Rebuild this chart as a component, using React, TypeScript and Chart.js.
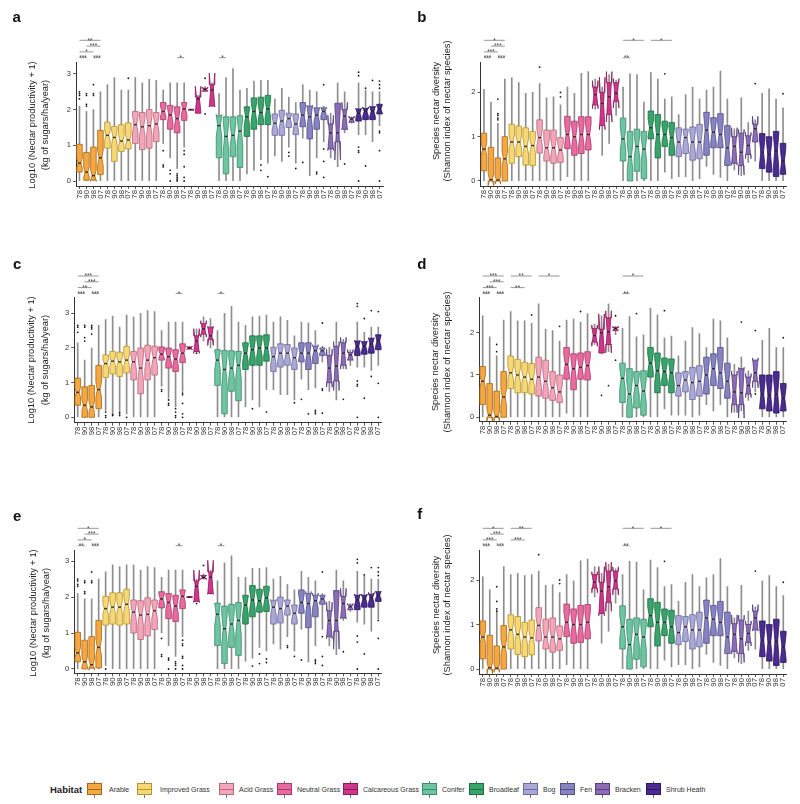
import React, { useEffect, useRef } from "react";
import { Chart, registerables } from "chart.js";

Chart.register(...registerables);

const FONT = '"Liberation Sans", Arial, Helvetica, sans-serif';

// ---------- categories ----------
const habitats = ["Arable", "Improved Grass", "Acid Grass", "Neutral Grass", "Calcareous Grass", "Conifer", "Broadleaf", "Bog", "Fen", "Bracken", "Shrub Heath"];
const years = ["78", "90", "98", "07"];
const xLabels = habitats.flatMap(() => years);

const habitatFill = ["#F5A741", "#F8D775", "#F5A5B8", "#E96A9E", "#D1358B", "#6DC5A1", "#37A46B", "#A9A8D6", "#8683C0", "#8B6CB5", "#4B2B8F"];
const habitatEdge = ["#A8691A", "#B39534", "#B26A7E", "#A53B69", "#8A1B5A", "#3E8A6C", "#1E6E44", "#6D6B9C", "#514E8A", "#573E80", "#2B1660"];
// survey squares per habitat (sets notch size: 1.58*IQR/sqrt(n))
const sampleSize = [80, 60, 35, 25, 4, 35, 25, 22, 20, 5, 15];

const productivityTicks = [0, 1, 2, 3];
const diversityTicks = [0, 1, 2];

// ---------- box statistics: [low whisker, Q1, median, Q3, high whisker] ----------
const statsA = [
  [0, 0.25, 0.5, 1.03, 2.1], [0, 0.02, 0.25, 0.8, 1.95], [0, 0.03, 0.15, 0.95, 2.0], [0, 0.18, 0.65, 1.42, 2.5],
  [0, 0.92, 1.28, 1.65, 2.7], [0, 0.55, 1.22, 1.53, 2.9], [0, 0.83, 1.12, 1.58, 2.55], [0, 0.9, 1.15, 1.63, 2.55],
  [0, 1.05, 1.58, 1.95, 2.9], [0, 0.88, 1.52, 1.92, 2.75], [0, 0.92, 1.55, 2.0, 2.85], [0, 1.1, 1.6, 1.92, 2.82],
  [1.05, 1.72, 1.95, 2.2, 2.55], [0.65, 1.45, 1.85, 2.12, 2.75], [0.35, 1.35, 1.75, 2.08, 2.75], [0.95, 1.7, 2.02, 2.2, 2.75],
  [1.99, 1.99, 2.0, 2.01, 2.01], [1.9, 1.9, 2.3, 2.35, 2.4], [2.5, 2.52, 2.57, 2.6, 2.65], [2.1, 2.1, 2.55, 2.7, 2.75],
  [0, 0.65, 1.55, 1.83, 2.45], [0, 0.2, 1.25, 1.8, 2.9], [0, 0.68, 1.28, 1.8, 3.15], [0, 0.38, 1.4, 1.83, 2.55],
  [0.2, 1.25, 1.8, 2.08, 2.6], [0.3, 1.45, 1.95, 2.33, 2.8], [0.6, 1.58, 1.92, 2.35, 2.82], [0.5, 1.58, 2.02, 2.4, 2.82],
  [0.7, 1.28, 1.62, 1.88, 2.3], [0.55, 1.28, 1.68, 1.98, 2.6], [0.95, 1.5, 1.75, 1.9, 2.35], [0.5, 1.3, 1.6, 1.88, 2.2],
  [1.2, 1.52, 1.85, 2.2, 2.7], [0.15, 1.18, 1.8, 2.1, 2.55], [0.65, 1.45, 1.85, 2.05, 2.5], [1.1, 1.72, 1.95, 2.05, 2.1],
  [0.65, 0.9, 1.35, 1.6, 1.9], [0.4, 1.1, 1.35, 2.18, 2.75], [1.35, 1.45, 1.82, 2.0, 2.5], [1.62, 1.65, 1.73, 1.78, 1.8],
  [1.3, 1.68, 1.9, 2.02, 2.75], [1.3, 1.72, 1.95, 2.03, 2.55], [1.1, 1.72, 1.95, 2.08, 2.5], [1.55, 1.88, 2.02, 2.15, 2.5],
];
const statsB = [
  [0, 0.23, 0.72, 1.08, 2.07], [0, 0.0, 0.03, 0.76, 1.78], [0, 0.0, 0.02, 0.52, 1.3], [0, 0.0, 0.5, 1.0, 2.3],
  [0, 0.4, 0.88, 1.28, 2.33], [0, 0.55, 0.88, 1.24, 2.22], [0, 0.36, 0.78, 1.2, 1.98], [0, 0.35, 0.8, 1.12, 2.0],
  [0, 0.63, 0.98, 1.38, 2.2], [0, 0.45, 0.75, 1.15, 1.88], [0, 0.4, 0.75, 1.15, 1.9], [0, 0.42, 0.7, 0.98, 1.72],
  [0.1, 0.73, 1.05, 1.46, 2.12], [0, 0.58, 1.0, 1.35, 1.98], [0, 0.62, 1.05, 1.45, 2.43], [0, 0.7, 1.05, 1.45, 2.47],
  [1.62, 1.72, 1.95, 2.12, 2.3], [0.58, 1.25, 1.75, 2.0, 2.12], [0.85, 1.5, 1.9, 2.22, 2.4], [1.48, 1.8, 1.98, 2.22, 2.28],
  [0, 0.45, 0.95, 1.42, 2.12], [0, 0.0, 0.55, 1.12, 2.42], [0, 0.22, 0.78, 1.17, 2.4], [0, 0.05, 0.72, 1.12, 1.78],
  [0, 0.95, 1.2, 1.58, 2.45], [0, 0.52, 1.05, 1.5, 2.3], [0.2, 0.78, 1.05, 1.35, 1.85], [0.05, 0.58, 0.98, 1.32, 1.9],
  [0.1, 0.55, 0.88, 1.2, 1.5], [0.1, 0.62, 0.98, 1.17, 1.95], [0, 0.47, 0.88, 1.22, 2.12], [0.05, 0.5, 0.88, 1.28, 1.85],
  [0.33, 0.58, 1.15, 1.55, 2.05], [0.15, 0.75, 1.1, 1.43, 2.12], [0.08, 0.75, 1.05, 1.52, 2.48], [0, 0.35, 0.75, 1.25, 1.85],
  [0.25, 0.4, 0.78, 1.0, 1.18], [0.12, 0.35, 0.65, 1.08, 1.88], [0.42, 0.6, 0.8, 1.02, 1.32], [0.45, 0.88, 1.18, 1.28, 1.38],
  [0, 0.28, 0.65, 1.07, 1.98], [0, 0.2, 0.6, 1.0, 2.08], [0, 0.1, 0.68, 1.12, 1.85], [0, 0.15, 0.45, 0.85, 1.65],
];
const statsC = [
  [0, 0.35, 0.72, 1.13, 2.15], [0, 0.0, 0.35, 0.88, 1.65], [0, 0.0, 0.3, 0.92, 2.0], [0, 0.25, 0.8, 1.5, 2.65],
  [0.2, 1.15, 1.55, 1.8, 2.82], [0.1, 1.25, 1.62, 1.9, 2.92], [0.2, 1.18, 1.6, 1.88, 2.6], [0.1, 1.28, 1.65, 2.05, 2.95],
  [0, 1.08, 1.6, 1.9, 2.9], [0, 0.68, 1.42, 2.0, 3.0], [0, 1.08, 1.65, 2.08, 3.08], [0, 1.22, 1.72, 2.05, 3.05],
  [0.9, 1.65, 1.82, 2.03, 2.5], [0.55, 1.42, 1.75, 2.0, 2.75], [0.3, 1.32, 1.68, 1.95, 2.75], [0.75, 1.58, 1.85, 2.12, 2.75],
  [1.97, 1.97, 2.0, 2.03, 2.03], [1.9, 1.9, 2.2, 2.35, 2.55], [2.2, 2.4, 2.55, 2.7, 2.9], [2.0, 2.25, 2.35, 2.6, 2.85],
  [0, 0.92, 1.65, 1.95, 2.5], [0, 0.1, 1.38, 1.93, 3.0], [0, 0.75, 1.42, 1.92, 3.2], [0, 0.48, 1.5, 1.9, 2.75],
  [0.3, 1.38, 1.85, 2.15, 2.65], [0.5, 1.5, 1.95, 2.35, 2.9], [0.3, 1.5, 2.0, 2.35, 2.92], [0.8, 1.62, 2.0, 2.38, 2.95],
  [0.8, 1.32, 1.75, 2.02, 2.75], [0.65, 1.45, 1.85, 2.12, 2.9], [0.65, 1.5, 1.85, 2.1, 2.8], [0.5, 1.38, 1.72, 2.0, 2.35],
  [1.1, 1.6, 1.85, 2.15, 2.75], [0.8, 1.38, 1.85, 2.15, 2.72], [0.85, 1.55, 1.92, 2.05, 2.5], [1.6, 1.78, 1.92, 2.0, 2.05],
  [0.75, 1.0, 1.42, 1.78, 2.02], [0.5, 1.05, 1.48, 2.05, 2.75], [1.4, 1.5, 1.85, 2.15, 2.25], [1.5, 1.65, 1.8, 1.87, 1.95],
  [1.45, 1.78, 2.05, 2.2, 2.75], [1.45, 1.82, 2.05, 2.18, 2.45], [1.35, 1.85, 2.12, 2.28, 2.6], [1.5, 1.95, 2.2, 2.38, 2.6],
];
const statsD = [
  [0, 0.3, 0.85, 1.2, 2.4], [0, 0.0, 0.05, 0.8, 1.9], [0, 0.0, 0.02, 0.62, 1.45], [0, 0.0, 0.48, 1.08, 2.3],
  [0, 0.68, 1.05, 1.45, 2.5], [0, 0.58, 1.0, 1.37, 2.28], [0, 0.58, 0.95, 1.3, 2.28], [0, 0.55, 0.9, 1.27, 2.22],
  [0, 0.5, 0.95, 1.42, 2.68], [0, 0.45, 0.85, 1.35, 2.08], [0, 0.4, 0.7, 1.08, 2.05], [0, 0.35, 0.6, 1.0, 1.8],
  [0.1, 0.9, 1.25, 1.65, 2.3], [0, 0.65, 1.15, 1.5, 2.32], [0, 0.9, 1.18, 1.52, 2.25], [0, 0.88, 1.22, 1.55, 2.45],
  [1.72, 1.78, 1.93, 2.1, 2.2], [1.5, 1.52, 2.0, 2.08, 2.4], [1.55, 1.72, 2.02, 2.35, 2.68], [1.95, 2.05, 2.1, 2.12, 2.15],
  [0, 0.35, 0.92, 1.28, 2.1], [0, 0.0, 0.55, 1.15, 2.38], [0, 0.22, 0.75, 1.08, 1.9], [0, 0.05, 0.62, 1.1, 1.95],
  [0, 0.95, 1.28, 1.65, 2.58], [0, 0.58, 1.1, 1.52, 2.42], [0.2, 0.75, 1.08, 1.4, 1.88], [0.05, 0.58, 1.05, 1.38, 1.92],
  [0.05, 0.5, 0.75, 1.05, 1.45], [0.05, 0.6, 0.88, 1.08, 1.8], [0, 0.42, 0.82, 1.18, 2.12], [0.05, 0.5, 0.85, 1.22, 1.98],
  [0.3, 0.55, 1.0, 1.42, 1.65], [0.15, 0.75, 1.15, 1.5, 2.32], [0.3, 0.68, 1.05, 1.65, 2.28], [0, 0.45, 0.85, 1.28, 1.88],
  [0.12, 0.3, 0.6, 1.0, 1.25], [0.15, 0.3, 0.58, 1.15, 1.42], [0.4, 0.55, 0.75, 0.95, 1.1], [0.6, 0.85, 1.05, 1.35, 1.35],
  [0, 0.2, 0.55, 1.0, 1.82], [0, 0.15, 0.52, 1.0, 2.1], [0, 0.1, 0.55, 1.08, 1.65], [0, 0.15, 0.45, 0.8, 1.65],
];
const statsE = [
  [0, 0.2, 0.45, 1.02, 2.1], [0, 0.0, 0.2, 0.8, 1.95], [0, 0.03, 0.12, 0.9, 1.95], [0, 0.03, 0.6, 1.35, 2.5],
  [0.1, 1.22, 1.68, 2.02, 2.7], [0, 1.25, 1.72, 2.12, 2.9], [0, 1.22, 1.72, 2.12, 2.85], [0, 1.25, 1.8, 2.22, 2.9],
  [0, 1.0, 1.58, 1.92, 2.9], [0, 0.82, 1.5, 1.9, 2.75], [0, 0.92, 1.52, 1.98, 2.85], [0, 1.1, 1.62, 1.92, 2.82],
  [1.0, 1.7, 1.95, 2.15, 2.55], [0.65, 1.4, 1.85, 2.1, 2.75], [0.35, 1.32, 1.75, 2.05, 2.75], [0.9, 1.68, 2.02, 2.2, 2.75],
  [1.99, 1.99, 2.0, 2.01, 2.01], [1.88, 1.88, 2.3, 2.45, 2.5], [2.5, 2.52, 2.55, 2.6, 2.65], [2.08, 2.1, 2.55, 2.7, 2.75],
  [0, 0.65, 1.52, 1.83, 2.45], [0, 0.15, 1.12, 1.75, 2.95], [0, 0.6, 1.25, 1.8, 3.15], [0, 0.38, 1.35, 1.85, 2.55],
  [0.22, 1.25, 1.78, 2.05, 2.55], [0.3, 1.45, 1.92, 2.32, 2.8], [0.6, 1.58, 1.9, 2.22, 2.8], [0.5, 1.6, 1.98, 2.3, 2.82],
  [0.7, 1.25, 1.72, 1.9, 2.5], [0.55, 1.28, 1.68, 2.0, 2.58], [0.9, 1.5, 1.75, 1.92, 2.35], [0.5, 1.25, 1.55, 1.78, 2.2],
  [1.1, 1.55, 1.85, 2.2, 2.72], [0.2, 1.15, 1.82, 2.1, 2.55], [0.65, 1.45, 1.9, 2.05, 2.45], [1.1, 1.8, 1.95, 2.05, 2.1],
  [0.65, 0.9, 1.35, 1.62, 1.88], [0.4, 1.05, 1.35, 2.18, 2.75], [1.35, 1.42, 1.82, 2.02, 2.45], [1.6, 1.65, 1.73, 1.78, 1.82],
  [1.3, 1.65, 1.92, 2.05, 2.72], [1.25, 1.72, 1.95, 2.05, 2.6], [1.05, 1.72, 1.98, 2.08, 2.5], [1.4, 1.88, 2.05, 2.15, 2.5],
];
const statsF = [
  [0, 0.23, 0.72, 1.08, 2.07], [0, 0.0, 0.03, 0.76, 1.78], [0, 0.0, 0.02, 0.52, 1.3], [0, 0.0, 0.5, 0.98, 2.3],
  [0, 0.45, 0.88, 1.22, 2.12], [0, 0.33, 0.78, 1.18, 2.15], [0, 0.28, 0.72, 1.05, 2.1], [0, 0.32, 0.7, 1.1, 2.12],
  [0, 0.63, 0.98, 1.38, 2.2], [0, 0.45, 0.72, 1.12, 1.88], [0, 0.38, 0.72, 1.15, 1.9], [0, 0.42, 0.68, 0.97, 1.72],
  [0.1, 0.73, 1.05, 1.46, 2.12], [0, 0.58, 1.0, 1.35, 1.98], [0, 0.6, 1.0, 1.43, 2.43], [0, 0.68, 1.05, 1.45, 2.47],
  [1.62, 1.82, 1.95, 2.12, 2.3], [0.58, 1.25, 1.75, 1.95, 2.15], [0.85, 1.5, 1.85, 2.2, 2.35], [1.48, 1.8, 1.98, 2.2, 2.25],
  [0, 0.45, 0.95, 1.42, 2.12], [0, 0.0, 0.55, 1.12, 2.42], [0, 0.22, 0.78, 1.15, 2.4], [0, 0.05, 0.72, 1.12, 1.78],
  [0, 0.95, 1.2, 1.58, 2.45], [0, 0.52, 1.05, 1.5, 2.28], [0.2, 0.75, 1.05, 1.35, 1.85], [0.05, 0.58, 0.95, 1.32, 1.9],
  [0.1, 0.55, 0.82, 1.2, 1.52], [0.1, 0.62, 0.95, 1.18, 1.95], [0, 0.45, 0.88, 1.22, 2.12], [0.05, 0.5, 0.88, 1.28, 1.85],
  [0.33, 0.58, 1.15, 1.55, 2.05], [0.15, 0.75, 1.12, 1.43, 2.12], [0.08, 0.75, 1.05, 1.52, 2.48], [0, 0.35, 0.72, 1.28, 1.85],
  [0.25, 0.4, 0.78, 1.02, 1.15], [0.12, 0.35, 0.68, 1.1, 1.88], [0.42, 0.6, 0.8, 1.0, 1.3], [0.45, 0.88, 1.15, 1.3, 1.4],
  [0, 0.28, 0.65, 1.08, 1.98], [0, 0.18, 0.6, 1.0, 2.1], [0, 0.08, 0.62, 1.12, 1.85], [0, 0.15, 0.5, 0.85, 1.65],
];

// ---------- outliers: [box index, values...] ----------
const outliersA = [
  [0, 2.3, 2.4, 2.45, 2.5], [1, 2.1, 2.15, 2.4, 2.45], [2, 2.4, 2.45, 2.7], [7, 2.88],
  [12, 0.85, 0.4, 0.45], [13, 0.3, 0.2, 0.0], [14, 0.2, 0.15, 0.05, 0.1, 0.0], [15, 0.85, 0.75, 0.4, 0.1, 0.0],
  [18, 2.88, 1.88], [26, 0.45, 0.3], [27, 0.12], [30, 0.8, 0.7], [31, 0.35], [32, 0.52], [34, 0.25, 0.2],
  [35, 2.7, 0.9, 0.55, 0.1], [38, 0.48], [40, 3.05, 2.95, 0.95, 0.85, 0.8, 0.0], [41, 2.6, 0.42], [42, 2.82],
  [43, 2.8, 2.7, 2.6, 1.4, 1.35, 0.85, 0.0],
];
const outliersB = [[2, 1.85, 1.52, 1.48, 1.42, 1.38], [8, 2.57], [11, 2.0, 1.9], [26, 2.42], [39, 2.2], [43, 1.97]];
const outliersC = [
  [0, 2.65, 2.6, 2.45], [1, 2.65, 2.6, 2.3, 2.2], [2, 2.65, 2.6, 2.55, 2.4], [4, 0.15, 0.05, 0.0], [5, 0.05, 0.08],
  [6, 0.1, 0.05, 0.15], [7, 0.0], [12, 0.8, 0.75], [13, 0.5, 0.4, 0.35], [14, 0.25, 0.15, 0.05, 0.0],
  [15, 0.7, 0.65, 0.4, 0.1, 0.0], [17, 1.85], [25, 0.25], [27, 0.15], [31, 0.42], [32, 0.52], [33, 0.1],
  [34, 0.2, 0.15, 0.1], [35, 2.72, 0.82, 0.78, 0.12], [38, 0.52], [40, 3.28, 3.2, 1.05, 0.95, 0.9, 0.0],
  [41, 2.85, 0.55], [42, 3.08, 1.18], [43, 3.05, 0.98, 0.0],
];
const outliersD = [
  [2, 1.72, 1.55], [7, 2.42], [11, 2.15], [14, 2.5], [17, 0.52], [18, 0.75], [19, 2.4, 1.35], [22, 2.45],
  [26, 2.52], [37, 2.25], [39, 2.05, 0.55], [43, 1.88],
];
const outliersE = [
  [0, 2.3, 2.35, 2.45, 2.5], [1, 2.1, 2.15, 2.4, 2.45], [2, 2.4, 2.45, 2.7], [4, 0.0], [12, 0.85, 0.4, 0.35],
  [13, 0.3, 0.25, 0.0], [14, 0.2, 0.15, 0.1, 0.0], [15, 0.8, 0.7, 0.65, 0.35, 0.3, 0.1, 0.0], [17, 1.82], [18, 2.88],
  [25, 0.08], [26, 0.42, 0.15], [27, 0.28, 0.18], [30, 0.65, 0.6], [31, 0.35], [32, 0.25], [34, 0.25, 0.2, 0.15],
  [35, 2.7, 0.9, 0.35, 0.1], [38, 0.48], [40, 3.05, 2.95, 0.92, 0.75, 0.0], [41, 2.62, 0.42], [42, 2.82],
  [43, 2.82, 2.7, 2.6, 1.35, 0.85, 0.0],
];
const outliersF = [[2, 1.85, 1.52, 1.35, 1.3], [8, 2.57], [11, 2.0, 1.92], [26, 2.42], [39, 2.2], [43, 1.95]];

// ---------- significance brackets: [from box, to box, row, label] ----------
const sigA = [[0, 1, 0, "***"], [2, 3, 0, "***"], [14, 15, 0, "*"], [20, 21, 0, "*"], [0, 2, 1, "*"], [1, 3, 2, "***"], [0, 3, 3, "**"]];
const sigB = [[0, 1, 0, "***"], [2, 3, 0, "***"], [20, 21, 0, "**"], [0, 2, 1, "***"], [1, 3, 2, "***"], [0, 3, 3, "*"], [20, 23, 3, "*"], [24, 27, 3, "*"]];
const sigC = [[0, 1, 0, "***"], [2, 3, 0, "***"], [14, 15, 0, "*"], [20, 21, 0, "*"], [0, 2, 1, "**"], [1, 3, 2, "***"], [0, 3, 3, "***"]];
const sigD = [[0, 1, 0, "***"], [2, 3, 0, "***"], [20, 21, 0, "**"], [0, 2, 1, "***"], [4, 6, 1, "**"], [1, 3, 2, "***"], [0, 3, 3, "***"], [4, 7, 3, "**"], [8, 11, 3, "*"], [20, 23, 3, "*"]];
const sigE = [[0, 1, 0, "**"], [2, 3, 0, "***"], [14, 15, 0, "*"], [20, 21, 0, "*"], [0, 2, 1, "*"], [1, 3, 2, "***"], [0, 3, 3, "*"]];
const sigF = [[0, 1, 0, "***"], [2, 3, 0, "***"], [20, 21, 0, "**"], [0, 2, 1, "***"], [4, 6, 1, "***"], [1, 3, 2, "***"], [0, 3, 3, "*"], [4, 7, 3, "**"], [20, 23, 3, "*"], [24, 27, 3, "*"]];

const prodTitle = ["Log10 (Nectar productivity + 1)", "(kg of sugars/ha/year)"];
const divTitle = ["Species nectar diversity", "(Shannon index of nectar species)"];

// ---------- layout (page pixels) ----------
const panels = [
  { id: "a", stats: statsA, outliers: outliersA, sig: sigA, ticks: productivityTicks, title: prodTitle,
    geo: { left: 0, cl: 76, cr: 383, ct: 62, cb: 186, ymin: -0.14, ymax: 3.336, lx: 12.5, ly: 9.3, tx: [32.7, 45.7], ty: 125 } },
  { id: "b", stats: statsB, outliers: outliersB, sig: sigB, ticks: diversityTicks, title: divTitle,
    geo: { left: 400, cl: 480.5, cr: 786.5, ct: 62, cb: 186, ymin: -0.113, ymax: 2.686, lx: 417.3, ly: 9, tx: [437.2, 447.7], ty: 111 } },
  { id: "c", stats: statsC, outliers: outliersC, sig: sigC, ticks: productivityTicks, title: prodTitle,
    geo: { left: 0, cl: 74.2, cr: 381.8, ct: 297.7, cb: 422.7, ymin: -0.155, ymax: 3.45, lx: 13, ly: 255.8, tx: [32.2, 46.2], ty: 360 } },
  { id: "d", stats: statsD, outliers: outliersD, sig: sigD, ticks: diversityTicks, title: divTitle,
    geo: { left: 400, cl: 479.2, cr: 786.8, ct: 297.7, cb: 421.7, ymin: -0.104, ymax: 2.826, lx: 417.3, ly: 256.3, tx: [436.2, 448.2], ty: 362 } },
  { id: "e", stats: statsE, outliers: outliersE, sig: sigE, ticks: productivityTicks, title: prodTitle,
    geo: { left: 0, cl: 74.2, cr: 381.8, ct: 550, cb: 673.3, ymin: -0.12, ymax: 3.31, lx: 13, ly: 508.3, tx: [34.2, 46.7], ty: 613 } },
  { id: "f", stats: statsF, outliers: outliersF, sig: sigF, ticks: diversityTicks, title: divTitle,
    geo: { left: 400, cl: 479.3, cr: 786.8, ct: 550, cb: 674, ymin: -0.11, ymax: 2.674, lx: 417.3, ly: 505.6, tx: [436.7, 447.5], ty: 605 } },
];

const legendPos = [
  [87, 109], [137, 160], [219, 239], [277, 297], [343, 363], [422, 442], [469, 489], [523, 543], [560, 580], [595, 615], [646, 666],
];

const ABOVE = 56;
const BELOW = 24;

function BoxPanel({ p }: any) {
  const ref = useRef<HTMLCanvasElement>(null);
  const g = p.geo;
  const canvasTop = Math.floor(g.ct) - ABOVE;
  const H = Math.ceil(g.cb) + BELOW - canvasTop;
  const padTop = g.ct - canvasTop;
  const axisH = H - (g.cb - canvasTop);

  useEffect(() => {
    const points = p.outliers.flatMap((row: number[]) => row.slice(1).map((v) => ({ x: row[0], y: v })));
    const plugin = {
      id: "notchedBoxes" + p.id,
      afterDatasetDraw(chart: any, args: any) {
        if (args.index !== 1) return;
        const ys = chart.scales.y;
        const meta = chart.getDatasetMeta(1);
        const ctx = chart.ctx;
        const Y = (v: number) => ys.getPixelForValue(v);
        ctx.save();
        meta.data.forEach((el: any, i: number) => {
          const s = p.stats[i];
          const h = Math.floor(i / 4);
          const q1 = s[1], med = s[2], q3 = s[3];
          const notch = (1.58 * (q3 - q1)) / Math.sqrt(sampleSize[h]);
          const cx = el.x;
          const hw = el.width / 2;
          ctx.beginPath();
          ctx.moveTo(cx - hw, Y(q1));
          ctx.lineTo(cx + hw, Y(q1));
          ctx.lineTo(cx + hw, Y(med - notch));
          ctx.lineTo(cx + hw * 0.5, Y(med));
          ctx.lineTo(cx + hw, Y(med + notch));
          ctx.lineTo(cx + hw, Y(q3));
          ctx.lineTo(cx - hw, Y(q3));
          ctx.lineTo(cx - hw, Y(med + notch));
          ctx.lineTo(cx - hw * 0.5, Y(med));
          ctx.lineTo(cx - hw, Y(med - notch));
          ctx.closePath();
          ctx.fillStyle = habitatFill[h];
          ctx.fill();
          ctx.lineWidth = 0.8;
          ctx.strokeStyle = habitatEdge[h];
          ctx.stroke();
          ctx.beginPath();
          ctx.moveTo(cx - hw * 0.55, Y(med));
          ctx.lineTo(cx + hw * 0.55, Y(med));
          ctx.lineWidth = 1.4;
          ctx.strokeStyle = "rgba(45,30,30,0.9)";
          ctx.stroke();
        });
        ctx.restore();
      },
      afterDraw(chart: any) {
        const xs = chart.scales.x;
        const top = chart.chartArea.top;
        const ctx = chart.ctx;
        ctx.save();
        ctx.strokeStyle = "#6a6a6a";
        ctx.lineWidth = 0.7;
        ctx.fillStyle = "#444";
        ctx.font = `6.5px ${FONT}`;
        ctx.textAlign = "center";
        ctx.textBaseline = "alphabetic";
        p.sig.forEach((sg: any[]) => {
          const [a, b, row, label] = sg;
          const y = top - 4.3 - row * 5.8;
          const x1 = xs.getPixelForValue(a);
          const x2 = xs.getPixelForValue(b);
          ctx.beginPath();
          ctx.moveTo(x1, y);
          ctx.lineTo(x2, y);
          ctx.stroke();
          ctx.fillText(label, (x1 + x2) / 2, y + 2.2);
        });
        ctx.restore();
      },
    };

    const chart = new Chart(ref.current as HTMLCanvasElement, {
      type: "bar",
      data: {
        labels: xLabels,
        datasets: [
          {
            type: "scatter",
            data: points,
            xAxisID: "xo",
            yAxisID: "y",
            pointRadius: 0.9,
            pointBackgroundColor: "#1a1a1a",
            pointBorderWidth: 0,
          } as any,
          {
            type: "bar",
            data: p.stats.map((s: number[]) => [s[1], s[3]]),
            backgroundColor: "rgba(0,0,0,0)",
            borderWidth: 0,
            barPercentage: 0.8,
            categoryPercentage: 1,
            grouped: false,
          } as any,
          {
            type: "bar",
            data: p.stats.map((s: number[]) => [s[0], s[4]]),
            backgroundColor: "#8e8e8e",
            borderWidth: 0,
            barThickness: 1,
            grouped: false,
          } as any,
        ],
      },
      options: {
        animation: false,
        responsive: false,
        maintainAspectRatio: false,
        events: [],
        layout: { padding: { top: padTop, left: 0, right: 400 - (g.cr - g.left), bottom: 0 } },
        plugins: { legend: { display: false }, tooltip: { enabled: false } },
        scales: {
          x: {
            type: "category",
            offset: true,
            grid: { display: true, drawOnChartArea: false, drawTicks: true, tickLength: 3, offset: false, color: "#333", lineWidth: 0.8 },
            border: { display: true, color: "#333", width: 1 },
            ticks: { autoSkip: false, minRotation: 90, maxRotation: 90, padding: 1, color: "#333", font: { family: FONT, size: 7.8 } },
            afterFit: (s: any) => { s.height = axisH; },
          },
          xo: { type: "linear", display: false, min: -0.5, max: 43.5, offset: false },
          y: {
            type: "linear",
            position: "left",
            min: g.ymin,
            max: g.ymax,
            grid: { display: true, drawOnChartArea: false, drawTicks: true, tickLength: 3, color: "#333", lineWidth: 0.8 },
            border: { display: true, color: "#333", width: 1 },
            ticks: { padding: 2, color: "#333", font: { family: FONT, size: 7.5 } },
            afterBuildTicks: (s: any) => { s.ticks = p.ticks.map((v: number) => ({ value: v })); },
            afterFit: (s: any) => { s.width = g.cl - g.left; },
          },
        },
      } as any,
      plugins: [plugin],
    });
    return () => chart.destroy();
  }, []);

  return (
    <canvas
      ref={ref}
      width={400}
      height={H}
      style={{ position: "absolute", left: g.left, top: canvasTop, width: 400, height: H }}
    />
  );
}

function PanelText({ p }: any) {
  const g = p.geo;
  return (
    <>
      <div style={{ position: "absolute", left: g.lx, top: g.ly, fontSize: 15, lineHeight: "15px", fontWeight: "bold", color: "#111" }}>{p.id}</div>
      {p.title.map((t: string, k: number) => (
        <div
          key={k}
          style={{
            position: "absolute",
            left: g.tx[k],
            top: g.ty,
            fontSize: 9.3,
            lineHeight: "9.3px",
            whiteSpace: "nowrap",
            color: "#222",
            transform: "translate(-50%, -50%) rotate(-90deg)",
          }}
        >
          {t}
        </div>
      ))}
    </>
  );
}

function Legend() {
  return (
    <>
      <div style={{ position: "absolute", left: 50, top: 785, fontSize: 9.5, lineHeight: "10px", fontWeight: "bold", color: "#222" }}>Habitat</div>
      {habitats.map((h, i) => {
        const [ix, tx] = legendPos[i];
        return (
          <React.Fragment key={h}>
            <div style={{ position: "absolute", left: ix + 7, top: 780.5, width: 1, height: 3, background: "#777" }} />
            <div
              style={{
                position: "absolute",
                left: ix,
                top: 783,
                width: 15,
                height: 12,
                boxSizing: "border-box",
                border: `1px solid ${habitatEdge[i]}`,
                background: habitatFill[i],
              }}
            >
              <div style={{ position: "absolute", left: 0, right: 0, top: 4.5, height: 1.2, background: habitatEdge[i] }} />
            </div>
            <div style={{ position: "absolute", left: ix + 7, top: 795, width: 1, height: 3, background: "#777" }} />
            <div style={{ position: "absolute", left: tx, top: 786.3, fontSize: 7, lineHeight: "7.5px", whiteSpace: "nowrap", color: "#333" }}>{h}</div>
          </React.Fragment>
        );
      })}
    </>
  );
}

export default function App() {
  return (
    <div style={{ position: "absolute", left: 0, top: 0, width: 800, height: 804, background: "#fff", overflow: "hidden", fontFamily: FONT }}>
      {panels.map((p) => (
        <React.Fragment key={p.id}>
          <BoxPanel p={p} />
          <PanelText p={p} />
        </React.Fragment>
      ))}
      <Legend />
    </div>
  );
}
